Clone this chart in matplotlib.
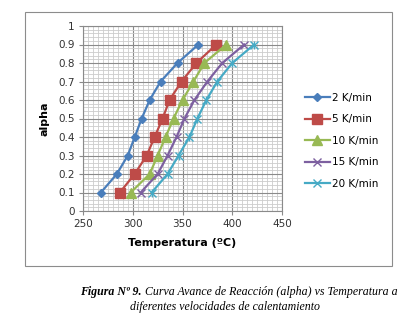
import numpy as np
import matplotlib.pyplot as plt
from matplotlib.patches import Rectangle
from matplotlib.ticker import MultipleLocator

# Data
alpha = [0.1, 0.2, 0.3, 0.4, 0.5, 0.6, 0.7, 0.8, 0.9]
t_2 = [268, 284, 295, 302, 309, 317, 328, 345, 366]
t_5 = [287, 302, 314, 322, 330, 337, 349, 364, 384]
t_10 = [298, 317, 325, 333, 341, 350, 361, 372, 394]
t_15 = [308, 325, 335, 344, 352, 362, 375, 390, 412]
t_20 = [319, 335, 346, 357, 365, 374, 385, 400, 422]
labels = ["2 K/min", "5 K/min", "10 K/min", "15 K/min", "20 K/min"]

W, H = 410, 328
fig = plt.figure(figsize=(W / 100, H / 100), dpi=100)

# Excel chart area border
fig.patches.append(Rectangle((25 / W, 1 - 266 / H), (392 - 25) / W, (266 - 12) / H,
                             transform=fig.transFigure, fill=False,
                             edgecolor="#8c8c8c", linewidth=0.8))

ax = fig.add_axes([83 / W, 1 - 211 / H, (282 - 83) / W, (211 - 26) / H])

series = [
    (t_2, "#4A7EBB", "D", 4.5),
    (t_5, "#BE4B48", "s", 6.5),
    (t_10, "#98B954", "^", 6.5),
    (t_15, "#7D60A0", "x", 6),
    (t_20, "#46AAC5", "x", 6),
]
for (t, c, m, ms), lab in zip(series, labels):
    ax.plot(t, alpha, color=c, linewidth=1.6, marker=m, markersize=ms,
            markeredgewidth=1.0, markerfacecolor=c, markeredgecolor=c, label=lab)
    if lab == "20 K/min":
        # asterisk-like marker
        ax.plot(t, alpha, linestyle="none", marker="|", markersize=ms, color=c,
                markeredgewidth=1.0)

ax.set_xlim(250, 450)
ax.set_ylim(0, 1)
ax.xaxis.set_major_locator(MultipleLocator(50))
ax.xaxis.set_minor_locator(MultipleLocator(5))
ax.yaxis.set_minor_locator(MultipleLocator(0.02))
ax.set_yticks(np.arange(0, 1.01, 0.1))
ax.set_yticklabels(["0"] + [f"{v:.1f}" for v in np.arange(0.1, 0.95, 0.1)] + ["1"])
ax.grid(which="major", color="#8a8a8a", linewidth=0.8)
ax.grid(which="minor", color="#cccccc", linewidth=0.6)
ax.set_axisbelow(True)
for s in ax.spines.values():
    s.set_color("#8a8a8a")
    s.set_linewidth(0.8)
ax.tick_params(which="major", length=3, color="#8a8a8a", labelsize=7.5,
               labelcolor="#333333", pad=3)
ax.tick_params(which="minor", length=0)

ax.set_xlabel("Temperatura (ºC)", fontsize=8, fontweight="bold", labelpad=6)
ax.set_ylabel("alpha", fontsize=8, fontweight="bold", labelpad=6)

ax.legend(loc="upper left", bbox_to_anchor=(305 / W, 1 - 93 / H),
          bbox_transform=fig.transFigure, frameon=False, fontsize=7.5,
          handlelength=2.4, handletextpad=0.2, labelspacing=1.1,
          borderpad=0, borderaxespad=0)

# caption below the chart
cap = dict(fontsize=8.6, style="italic", family="Liberation Serif", va="center")
t1 = fig.text(80 / W, 1 - 292 / H, "Figura Nº 9.", fontweight="bold", ha="left", **cap)
ax.annotate(" Curva Avance de Reacción (alpha) vs Temperatura a",
            xy=(1, 0.5), xycoords=t1, ha="left", annotation_clip=False, **cap)
fig.text(225 / W, 1 - 307 / H, "diferentes velocidades de calentamiento",
         ha="center", **cap)

fig.savefig("out.png", dpi=100)
